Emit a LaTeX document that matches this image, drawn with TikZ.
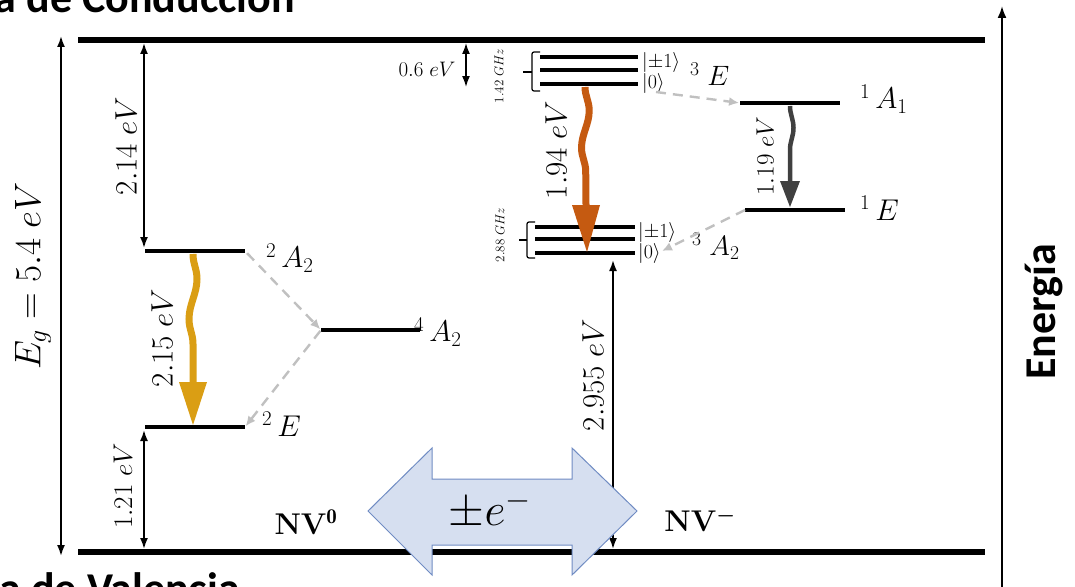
\RequirePackage{fix-cm}
\documentclass[tikz,border=0pt]{standalone}
\usepackage{amsmath}
\usepackage{fontspec}
\newfontfamily\titlefont{Carlito}
\usetikzlibrary{arrows.meta,decorations.pathmorphing,calc}
\definecolor{goldw}{RGB}{218,158,20}
\definecolor{orangew}{RGB}{197,90,17}
\definecolor{darkw}{RGB}{64,64,64}
\definecolor{iscgray}{RGB}{192,192,192}
\definecolor{bluefill}{RGB}{214,223,240}
\definecolor{blueedge}{RGB}{112,140,195}
\newcommand{\fs}[1]{\fontsize{#1}{#1}\selectfont}
\begin{document}
\begin{tikzpicture}[x=1pt,y=-1pt,
 band/.style={line width=6pt},
 lvl/.style={line width=4.5pt},
 sublvl/.style={line width=4pt},
 dimarrow/.style={line width=1.8pt,{Latex[length=11pt,width=8pt]}-{Latex[length=11pt,width=8pt]}},
 isc/.style={draw=iscgray,line width=2.4pt,dash pattern=on 10pt off 7pt,-{Latex[length=10pt,width=9pt]}},
 wave/.style={decorate,decoration={snake,amplitude=4pt,segment length=80pt}},
 lab/.style={inner sep=0pt},
 vlab/.style={rotate=90,inner sep=0pt},
 bracket/.style={line width=1.2pt,rounded corners=2pt},
 title/.style={inner sep=0pt,font=\titlefont\bfseries\fs{44}}
]
\useasboundingbox (0,0) rectangle (1075,586);
\clip (0,0) rectangle (1075,586);

% titles (cut by the frame)
\node[title,anchor=base east] (tcb) at (295,13) {Banda de Conducción};
\node[title,anchor=base east] (tvb) at (240,603) {Banda de Valencia};

% bands
\coordinate (cbL) at (78,40); \coordinate (cbR) at (985,40);
\coordinate (vbL) at (78,552); \coordinate (vbR) at (985,552);
\draw[band] (cbL) -- (cbR);
\draw[band] (vbL) -- (vbR);

% energy axis
\coordinate (axB) at (1002,592); \coordinate (axT) at (1002,6);
\draw[line width=2pt,-{Latex[length=12pt,width=9pt]}] (axB) -- (axT);
\node[rotate=90,inner sep=0pt,font=\titlefont\bfseries\fs{44}] (energia) at (1044,312) {Energía};

% band gap
\coordinate (egT) at (61,36); \coordinate (egB) at (61,556);
\draw[dimarrow] (egB) -- (egT);
\node[vlab,font=\fs{37}] (eglab) at (33,276) {$E_g = 5.4\;eV$};

% ---------- NV0 ----------
\coordinate (a2L) at (145,251); \coordinate (a2R) at (245,251);
\coordinate (eL) at (145,427); \coordinate (eR) at (245,427);
\coordinate (q4L) at (321,330); \coordinate (q4R) at (420,330);
\draw[lvl] (a2L) -- (a2R);
\draw[lvl] (eL) -- (eR);
\draw[lvl] (q4L) -- (q4R);

\coordinate (d1T) at (144,43); \coordinate (d1B) at (144,248);
\draw[dimarrow] (d1T) -- (d1B);
\node[vlab,font=\fs{31}] (l214) at (126,146) {$2.14\;eV$};
\coordinate (d2T) at (144,430); \coordinate (d2B) at (144,549);
\draw[dimarrow] (d2T) -- (d2B);
\node[vlab,font=\fs{27}] (l121) at (123,486) {$1.21\;eV$};

\coordinate (yS) at (193,254); \coordinate (yH) at (193,382); \coordinate (yT) at (193,425);
\draw[goldw,line width=7pt,wave] (yS) -- (yH);
\fill[goldw] ($(yH)+(-14,0)$) -- ($(yH)+(14,0)$) -- (yT) -- cycle;
\node[vlab,font=\fs{31}] (l215) at (162,338) {$2.15\;eV$};

\draw[isc,shorten <=3pt,shorten >=1pt] (a2R) -- (q4L);
\draw[isc,shorten <=1pt,shorten >=1pt] (q4L) -- (eR);

\node[lab,anchor=west,font=\fs{30}] (la2) at (266,258) {${}^{2}\,A_2$};
\node[lab,anchor=west,font=\fs{30}] (lq4) at (414,332) {${}^{4}\,A_2$};
\node[lab,anchor=west,font=\fs{30}] (le) at (262,424) {${}^{2}\,E$};
\node[lab,font=\fs{30}] (nv0) at (306,522) {\textbf{NV}$^{\mathbf{0}}$};

% ---------- NV- ----------
% 3E triplet
\coordinate (t1L) at (540,57); \coordinate (t1R) at (638,57);
\coordinate (t2L) at (540,70); \coordinate (t2R) at (638,70);
\coordinate (t3L) at (540,84); \coordinate (t3R) at (638,84);
\draw[sublvl] (t1L) -- (t1R);
\draw[sublvl] (t2L) -- (t2R);
\draw[sublvl] (t3L) -- (t3R);
\draw[bracket] (540,52) -- (532,52) -- (532,91) -- (540,91);
\draw[line width=1.2pt] (532,72) -- (523,72);
\node[vlab,font=\fs{13}] (g142) at (499,76) {$1.42\;GHz$};
\node[lab,anchor=west,font=\fs{20}] (k1a) at (642,62) {$\lvert\pm1\rangle$};
\node[lab,anchor=west,font=\fs{20}] (k0a) at (642,83) {$\lvert0\rangle$};
\node[lab,anchor=west,font=\fs{28}] (l3e) at (690,74) {${}^{3}\;E$};

\coordinate (u1) at (466,43); \coordinate (u2) at (466,87);
\draw[dimarrow,line width=1.6pt] (u1) -- (u2);
\node[lab,font=\fs{21}] (l06) at (427,69) {$0.6\;eV$};

% 3A2 triplet
\coordinate (g1L) at (535,227); \coordinate (g1R) at (635,227);
\coordinate (g2L) at (535,239); \coordinate (g2R) at (635,239);
\coordinate (g3L) at (535,253); \coordinate (g3R) at (635,253);
\draw[sublvl] (g1L) -- (g1R);
\draw[sublvl] (g2L) -- (g2R);
\draw[sublvl] (g3L) -- (g3R);
\draw[bracket] (535,222) -- (527,222) -- (527,258) -- (535,258);
\draw[line width=1.2pt] (527,240) -- (519,240);
\node[vlab,font=\fs{13}] (g288) at (500,235) {$2.88\;GHz$};
\node[lab,anchor=west,font=\fs{20}] (k1b) at (638,232) {$\lvert\pm1\rangle$};
\node[lab,anchor=west,font=\fs{20}] (k0b) at (638,253) {$\lvert0\rangle$};
\node[lab,anchor=west,font=\fs{28}] (l3a) at (692,246) {${}^{3}\;A_2$};

% orange transition
\coordinate (oS) at (585,87); \coordinate (oH) at (586,205); \coordinate (oT) at (587,252);
\draw[orangew,line width=7pt,wave,decoration={segment length=75pt}] (oS) -- (oH);
\fill[orangew] ($(oH)+(-14,0)$) -- ($(oH)+(14,0)$) -- (oT) -- cycle;
\node[vlab,font=\fs{31}] (l194) at (556,150) {$1.94\;eV$};

% singlets
\coordinate (s1L) at (740,103); \coordinate (s1R) at (840,103);
\coordinate (s2L) at (745,210); \coordinate (s2R) at (845,210);
\draw[lvl] (s1L) -- (s1R);
\draw[lvl] (s2L) -- (s2R);
\node[lab,anchor=west,font=\fs{30}] (ls1) at (860,99) {${}^{1}\,A_1$};
\node[lab,anchor=west,font=\fs{30}] (ls2) at (860,208) {${}^{1}\,E$};
\coordinate (kS) at (790,106); \coordinate (kH) at (790,181); \coordinate (kT) at (790,207);
\draw[darkw,line width=4.5pt,wave,decoration={segment length=70pt,amplitude=3.5pt}] (kS) -- (kH);
\fill[darkw] ($(kH)+(-10,0)$) -- ($(kH)+(10,0)$) -- (kT) -- cycle;
\node[vlab,font=\fs{25}] (l119) at (765,156) {$1.19\;eV$};

\coordinate (iA) at (656,92); \coordinate (iB) at (662,251);
\draw[isc,shorten >=1pt] (iA) -- (s1L);
\draw[isc] (s2L) -- (iB);

% 2.955 eV
\coordinate (pT) at (613,260); \coordinate (pB) at (613,549);
\draw[dimarrow] (pB) -- (pT);
\node[vlab,font=\fs{31}] (l2955) at (593,375) {$2.955\;eV$};

\node[lab,font=\fs{30}] (nvm) at (700,520) {\textbf{NV}$^{\boldsymbol{-}}$};

% charge exchange arrow
\draw[fill=bluefill,draw=blueedge,line width=1pt]
 (368,511) -- (432,448) -- (432,479) -- (572,479) -- (572,448) -- (637,511)
 -- (572,575) -- (572,545) -- (432,545) -- (432,575) -- cycle;
\node[lab,font=\fs{46}] (pme) at (490,510) {$\pm e^{-}$};
\end{tikzpicture}
\end{document}
